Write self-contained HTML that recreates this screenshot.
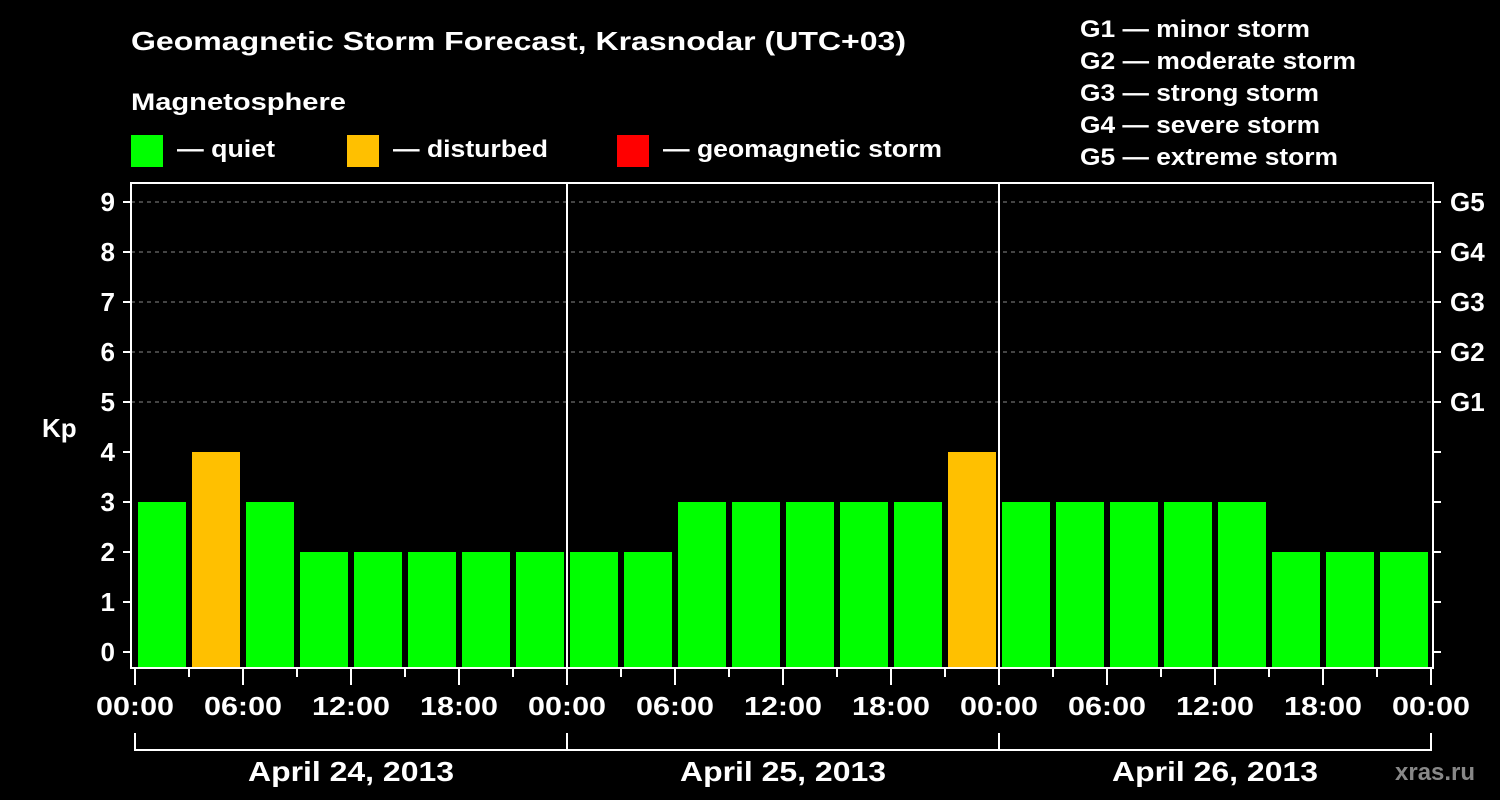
<!DOCTYPE html>
<html><head><meta charset="utf-8"><style>
html,body{margin:0;padding:0;background:#000;}
svg{display:block;}
svg text{font-family:"Liberation Sans",Arial,sans-serif;font-weight:bold;}
</style></head><body>
<svg width="1500" height="800" viewBox="0 0 1500 800">
<rect width="1500" height="800" fill="#000"/>
<g fill="#fff">
<text x="131" y="50" font-size="26" textLength="775" lengthAdjust="spacingAndGlyphs">Geomagnetic Storm Forecast, Krasnodar (UTC+03)</text>
<text x="131" y="110" font-size="24" textLength="215" lengthAdjust="spacingAndGlyphs">Magnetosphere</text>
<rect x="131" y="135" width="32" height="32" fill="#00ff00"/>
<text x="177" y="157" font-size="24" textLength="98" lengthAdjust="spacingAndGlyphs">— quiet</text>
<rect x="347" y="135" width="32" height="32" fill="#ffc000"/>
<text x="393" y="157" font-size="24" textLength="155" lengthAdjust="spacingAndGlyphs">— disturbed</text>
<rect x="617" y="135" width="32" height="32" fill="#ff0000"/>
<text x="663" y="157" font-size="24" textLength="279" lengthAdjust="spacingAndGlyphs">— geomagnetic storm</text>
<g font-size="24">
<text x="1080" y="37" textLength="230" lengthAdjust="spacingAndGlyphs">G1 — minor storm</text>
<text x="1080" y="69" textLength="276" lengthAdjust="spacingAndGlyphs">G2 — moderate storm</text>
<text x="1080" y="101" textLength="239" lengthAdjust="spacingAndGlyphs">G3 — strong storm</text>
<text x="1080" y="133" textLength="240" lengthAdjust="spacingAndGlyphs">G4 — severe storm</text>
<text x="1080" y="165" textLength="258" lengthAdjust="spacingAndGlyphs">G5 — extreme storm</text>
</g>
<text x="42" y="437" font-size="26">Kp</text>
<text x="1395" y="780" font-size="24" fill="#888">xras.ru</text>
</g>
<g id="grid"></g>
<g id="bars"></g>
<g id="axes"></g>
</svg>
<script>
const kpValues=[3,4,3,2,2,2,2,2, 2,2,3,3,3,3,3,4, 3,3,3,3,3,2,2,2];
const yTicks=[0,1,2,3,4,5,6,7,8,9];
const gLabels=["G1","G2","G3","G4","G5"];
const gLevels=[5,6,7,8,9];
const dayLabels=["April 24, 2013","April 25, 2013","April 26, 2013"];
const hourLabels=["00:00","06:00","12:00","18:00"];
const NS="http://www.w3.org/2000/svg";
const X0=135,HOUR_PX=18,PL=131,PR=1433,PT=183,PB=668;
function xs(h){return X0+h*HOUR_PX;}
function ys(v){return 652-v*50;}
function mk(tag,attrs,parent,txt){const e=document.createElementNS(NS,tag);for(const k in attrs)e.setAttribute(k,attrs[k]);if(txt!==undefined)e.textContent=txt;parent.appendChild(e);return e;}
const gridG=document.getElementById('grid'),barsG=document.getElementById('bars'),axesG=document.getElementById('axes');
gLevels.forEach((v,i)=>{
 const l=mk('line',{x1:PL,x2:PR,y1:ys(v),y2:ys(v),stroke:'#888','stroke-dasharray':'4,4','stroke-width':1},gridG);
 
 
 const t=mk('text',{x:1450,y:ys(v)+9,'font-size':26,fill:'#fff'},axesG,gLabels[i]);
 
 
});
kpValues.forEach((v,i)=>{
 const c=v>=5?'#ff0000':(v>=4?'#ffc000':'#00ff00');
 const r=mk('rect',{x:xs(i*3)+3,y:ys(v),width:HOUR_PX*3-6,height:PB-ys(v),fill:c},barsG);
 
 
});
const f=mk('rect',{x:PL,y:PT,width:PR-PL,height:PB-PT,fill:'none',stroke:'#fff','stroke-width':2},axesG);


[1,2].forEach(d=>{const l=mk('line',{x1:xs(d*24),x2:xs(d*24),y1:PT,y2:PB,stroke:'#fff','stroke-width':2},axesG);
 
 });
yTicks.forEach(v=>{
 mk('line',{x1:123,x2:PL,y1:ys(v),y2:ys(v),stroke:'#fff','stroke-width':2},axesG);
 mk('line',{x1:PR,x2:1441,y1:ys(v),y2:ys(v),stroke:'#fff','stroke-width':2},axesG);
 const t=mk('text',{x:115,y:ys(v)+9,'font-size':26,fill:'#fff','text-anchor':'end'},axesG,String(v));
 
 
});
for(let h=0;h<=72;h+=3){
 const major=h%6===0;
 mk('line',{x1:xs(h),x2:xs(h),y1:PB,y2:major?685:677,stroke:'#fff','stroke-width':2},axesG);
 if(major){const t=mk('text',{x:xs(h),y:715,'font-size':26,fill:'#fff','text-anchor':'middle',textLength:78,lengthAdjust:'spacingAndGlyphs'},axesG,hourLabels[(h/6)%4]);
  
  }
}
mk('polyline',{points:`${xs(0)},733 ${xs(0)},750 ${xs(72)},750 ${xs(72)},733`,fill:'none',stroke:'#fff','stroke-width':2},axesG);
[1,2].forEach(d=>mk('line',{x1:xs(d*24),x2:xs(d*24),y1:733,y2:750,stroke:'#fff','stroke-width':2},axesG));
dayLabels.forEach((d,i)=>{const t=mk('text',{x:xs(i*24+12),y:781,'font-size':28,fill:'#fff','text-anchor':'middle',textLength:206,lengthAdjust:'spacingAndGlyphs'},axesG,d);
 
 });
</script>
</body></html>
